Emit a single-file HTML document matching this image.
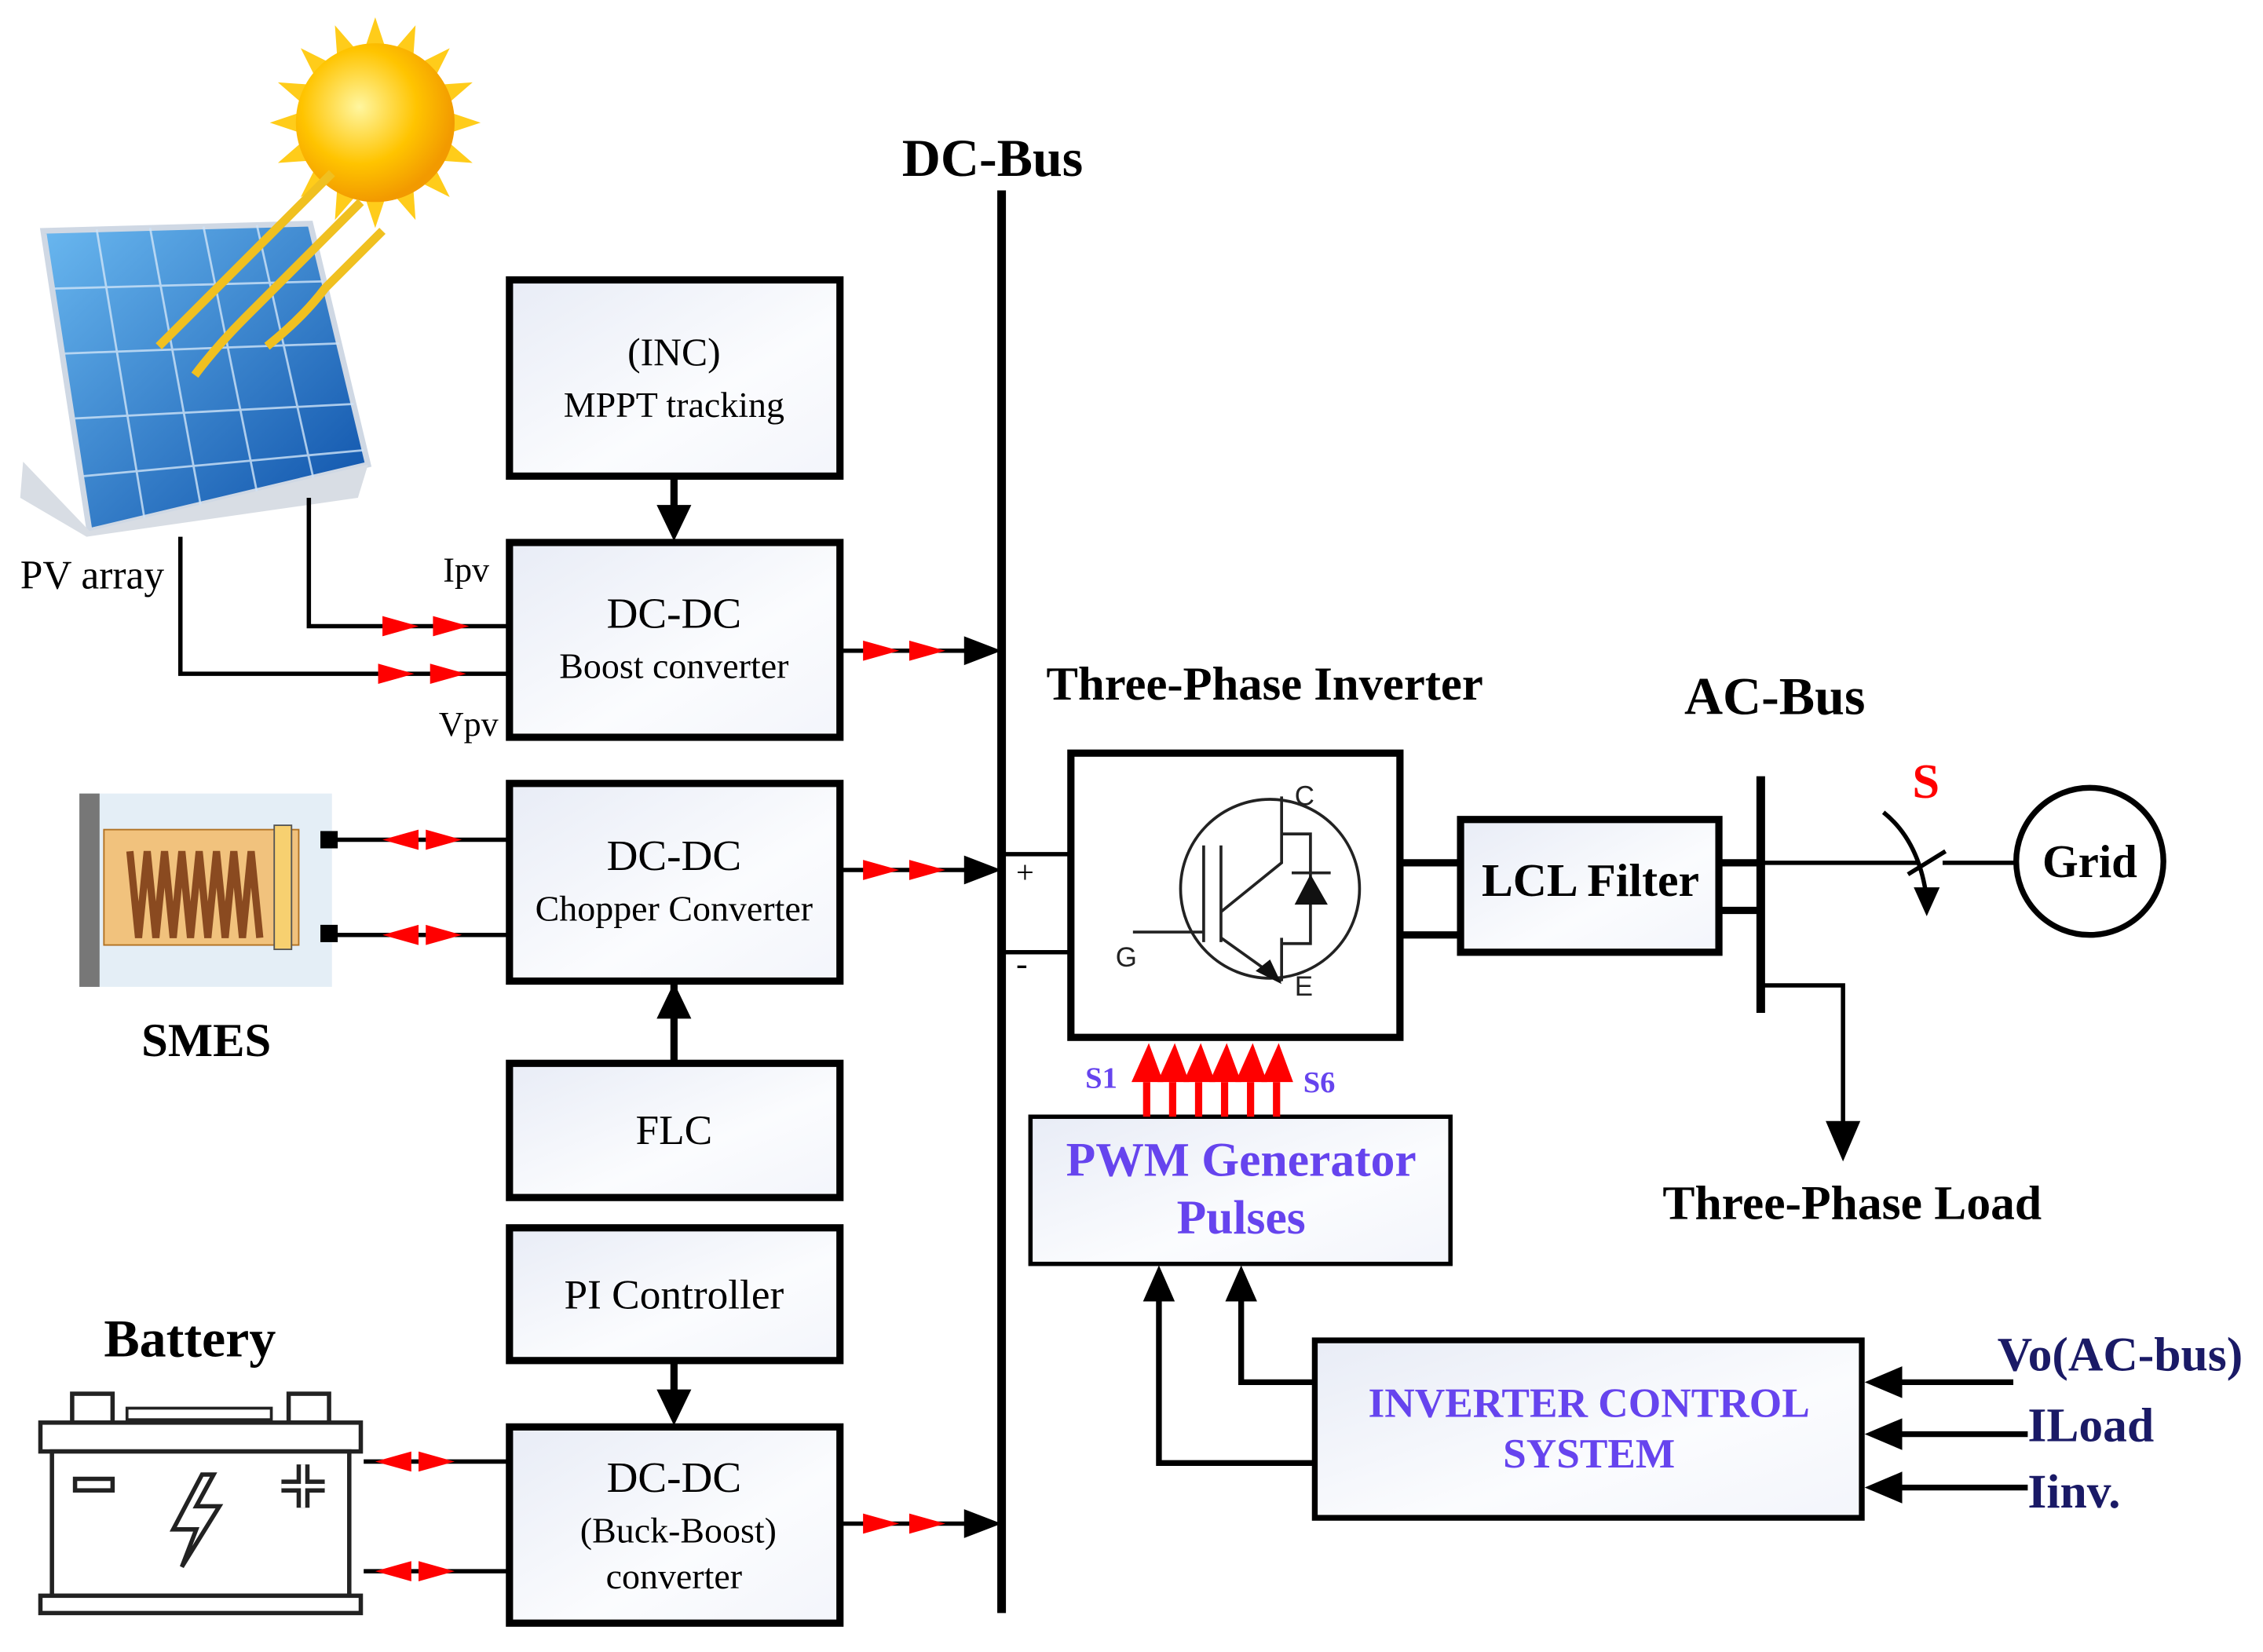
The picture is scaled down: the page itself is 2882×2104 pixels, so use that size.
<!DOCTYPE html>
<html><head><meta charset="utf-8"><style>html,body{margin:0;padding:0;background:#fff}svg{display:block}</style></head>
<body>
<svg width="2882" height="2104" viewBox="0 0 1568 1145" preserveAspectRatio="none" xmlns="http://www.w3.org/2000/svg" font-family="Liberation Serif, serif">
<defs>
<linearGradient id="bg" x1="0" y1="0" x2="1" y2="1"><stop offset="0" stop-color="#e8ecf6"/><stop offset="0.6" stop-color="#fbfcfe"/><stop offset="1" stop-color="#f3f5fb"/></linearGradient>
<radialGradient id="sun" cx="0.4" cy="0.4" r="0.6"><stop offset="0" stop-color="#fff6a0"/><stop offset="0.6" stop-color="#ffc400"/><stop offset="1" stop-color="#f29a00"/></radialGradient>
<linearGradient id="pv" x1="0" y1="0" x2="1" y2="1"><stop offset="0" stop-color="#6ab8f0"/><stop offset="1" stop-color="#0b4fa8"/></linearGradient>
</defs>
<!-- sun -->
<g fill="#ffcc1a">
<polygon points="260,12 268,36 252,36"/>
<polygon points="260,12 268,36 252,36" transform="rotate(22.5 260 85)"/>
<polygon points="260,12 268,36 252,36" transform="rotate(45 260 85)"/>
<polygon points="260,12 268,36 252,36" transform="rotate(67.5 260 85)"/>
<polygon points="260,12 268,36 252,36" transform="rotate(90 260 85)"/>
<polygon points="260,12 268,36 252,36" transform="rotate(112.5 260 85)"/>
<polygon points="260,12 268,36 252,36" transform="rotate(135 260 85)"/>
<polygon points="260,12 268,36 252,36" transform="rotate(157.5 260 85)"/>
<polygon points="260,12 268,36 252,36" transform="rotate(180 260 85)"/>
<polygon points="260,12 268,36 252,36" transform="rotate(202.5 260 85)"/>
<polygon points="260,12 268,36 252,36" transform="rotate(225 260 85)"/>
<polygon points="260,12 268,36 252,36" transform="rotate(247.5 260 85)"/>
<polygon points="260,12 268,36 252,36" transform="rotate(270 260 85)"/>
<polygon points="260,12 268,36 252,36" transform="rotate(292.5 260 85)"/>
<polygon points="260,12 268,36 252,36" transform="rotate(315 260 85)"/>
<polygon points="260,12 268,36 252,36" transform="rotate(337.5 260 85)"/>
</g>
<circle cx="260" cy="85" r="55" fill="url(#sun)"/>
<!-- PV panel -->
<polygon points="30,160 215,155 255,322 62,368" fill="url(#pv)" stroke="#cfd8e4" stroke-width="4"/>
<g stroke="#cfe4f8" stroke-width="1.5" opacity="0.8">
<line x1="67" y1="159" x2="100" y2="359"/><line x1="104" y1="158" x2="139" y2="350"/><line x1="141" y1="157" x2="178" y2="341"/><line x1="178" y1="156" x2="217" y2="331"/>
<line x1="38" y1="200" x2="224" y2="195"/><line x1="45" y1="245" x2="235" y2="238"/><line x1="52" y1="290" x2="245" y2="280"/><line x1="58" y1="330" x2="252" y2="312"/>
</g>
<polygon points="16,320 62,368 255,322 248,345 60,372 14,345" fill="#d8dde4"/>
<g stroke="#f0c020" stroke-width="6" fill="none"><path d="M230,120 q-20,20 -40,40 q-20,20 -40,40 q-20,20 -40,40"/><path d="M250,140 q-20,20 -40,40 q-20,20 -40,40 q-20,20 -35,40"/><path d="M265,160 q-20,20 -40,40 q-15,20 -40,40"/></g>
<text x="14" y="408" font-size="28">PV array</text>
<!-- DC bus -->
<line x1="694" y1="132" x2="694" y2="1118" stroke="#000" stroke-width="6"/>
<text x="625" y="122" font-size="37" font-weight="bold">DC-Bus</text>
<!-- boxes -->
<g fill="url(#bg)" stroke="#000" stroke-width="5">
<rect x="353" y="194" width="229" height="136"/>
<rect x="353" y="376" width="229" height="135"/>
<rect x="353" y="543" width="229" height="137"/>
<rect x="353" y="737" width="229" height="93"/>
<rect x="353" y="851" width="229" height="92"/>
<rect x="353" y="989" width="229" height="136"/>
<rect x="1012" y="568" width="179" height="92"/>
<rect x="714" y="774" width="291" height="102" stroke-width="3"/>
<rect x="911" y="929" width="379" height="123" stroke-width="4"/>
</g>
<rect x="742" y="522" width="228" height="197" fill="#fff" stroke="#000" stroke-width="5"/>
<g font-size="25" text-anchor="middle">
<text x="467" y="253" font-size="27">(INC)</text><text x="467" y="289" font-size="25">MPPT tracking</text>
<text x="467" y="435" font-size="30">DC-DC</text><text x="467" y="470" font-size="25">Boost converter</text>
<text x="467" y="603" font-size="30">DC-DC</text><text x="467" y="638" font-size="25">Chopper Converter</text>
<text x="467" y="793" font-size="29">FLC</text>
<text x="467" y="907" font-size="29">PI Controller</text>
<text x="467" y="1034" font-size="30">DC-DC</text><text x="470" y="1069" font-size="25">(Buck-Boost)</text><text x="467" y="1101" font-size="25">converter</text>
<text x="1102" y="621" font-size="32.5" font-weight="bold">LCL Filter</text>
<text x="860" y="815" font-size="33.5" font-weight="bold" fill="#6644ee">PWM Generator</text>
<text x="860" y="855" font-size="33.5" font-weight="bold" fill="#6644ee">Pulses</text>
<text x="1101" y="982" font-size="29" font-weight="bold" fill="#6644ee">INVERTER CONTROL</text>
<text x="1101" y="1017" font-size="29" font-weight="bold" fill="#6644ee">SYSTEM</text>
</g>
<!-- vertical arrows between boxes -->
<g stroke="#000" stroke-width="5"><line x1="467" y1="330" x2="467" y2="352"/><line x1="467" y1="680" x2="467" y2="737"/><line x1="467" y1="943" x2="467" y2="966"/></g>
<g fill="#000"><polygon points="455,350 479,350 467,375"/><polygon points="455,706 479,706 467,681"/><polygon points="455,963 479,963 467,988"/></g>
<!-- connections with red arrows -->
<g stroke="#000" stroke-width="3" fill="none">
<polyline points="214,345 214,434 353,434"/><polyline points="125,372 125,467 353,467"/>
<line x1="582" y1="451" x2="690" y2="451"/><line x1="582" y1="603" x2="690" y2="603"/><line x1="582" y1="1056" x2="690" y2="1056"/>
<line x1="230" y1="582" x2="353" y2="582"/><line x1="230" y1="648" x2="353" y2="648"/>
<line x1="252" y1="1013" x2="353" y2="1013"/><line x1="252" y1="1089" x2="353" y2="1089"/>
<polyline points="694,592 742,592"/><polyline points="694,660 742,660"/>
</g>
<g fill="#000"><polygon points="668,441 694,451 668,461"/><polygon points="668,593 694,603 668,613"/><polygon points="668,1046 694,1056 668,1066"/></g>
<g fill="#ff0000">
<polygon points="265,427 290,434 265,441"/><polygon points="300,427 325,434 300,441"/>
<polygon points="262,460 287,467 262,474"/><polygon points="298,460 323,467 298,474"/>
<polygon points="598,444 623,451 598,458"/><polygon points="630,444 655,451 630,458"/>
<polygon points="598,596 623,603 598,610"/><polygon points="630,596 655,603 630,610"/>
<polygon points="598,1049 623,1056 598,1063"/><polygon points="630,1049 655,1056 630,1063"/>
<polygon points="290,575 265,582 290,589"/><polygon points="295,575 320,582 295,589"/>
<polygon points="290,641 265,648 290,655"/><polygon points="295,641 320,648 295,655"/>
<polygon points="285,1006 260,1013 285,1020"/><polygon points="290,1006 315,1013 290,1020"/>
<polygon points="285,1082 260,1089 285,1096"/><polygon points="290,1082 315,1089 290,1096"/>
</g>
<text x="307" y="403" font-size="24">Ipv</text><text x="304" y="510" font-size="24">Vpv</text>
<text x="704" y="612" font-size="22">+</text><text x="704" y="676" font-size="24">-</text>
<!-- SMES -->
<rect x="55" y="550" width="175" height="134" fill="#e4eef6"/>
<rect x="55" y="550" width="14" height="134" fill="#777"/>
<rect x="72" y="575" width="135" height="80" fill="#f1c27d" stroke="#b07020"/>
<path d="M90,590 l6,60 l6,-60 l6,60 l6,-60 l6,60 l6,-60 l6,60 l6,-60 l6,60 l6,-60 l6,60 l6,-60 l6,60 l6,-60 l6,60" stroke="#8a4a20" stroke-width="5" fill="none"/>
<rect x="190" y="572" width="12" height="86" fill="#f7d070" stroke="#555"/>
<rect x="222" y="576" width="12" height="12" fill="#000"/><rect x="222" y="641" width="12" height="12" fill="#000"/>
<text x="98" y="732" font-size="33" font-weight="bold">SMES</text>
<!-- Battery -->
<text x="72" y="940" font-size="37" font-weight="bold">Battery</text>
<g stroke="#222" stroke-width="3" fill="#fff">
<rect x="50" y="966" width="28" height="20"/><rect x="200" y="966" width="28" height="20"/>
<rect x="28" y="986" width="222" height="20"/>
<rect x="36" y="1006" width="206" height="100"/>
<rect x="28" y="1106" width="222" height="12"/>
</g>
<rect x="88" y="976" width="100" height="8" fill="#fff" stroke="#222" stroke-width="2"/>
<rect x="52" y="1025" width="26" height="8" fill="#fff" stroke="#222" stroke-width="3"/>
<path d="M210,1015 v30 M195,1030 h30" stroke="#222" stroke-width="9"/><path d="M210,1015 v30 M195,1030 h30" stroke="#fff" stroke-width="3"/>
<path d="M140,1022 l-20,38 h16 l-10,26 l26,-42 h-16 l12,-22 z" fill="#fff" stroke="#222" stroke-width="3"/>
<!-- inverter -->
<text x="725" y="485" font-size="33" font-weight="bold">Three-Phase Inverter</text>
<g stroke="#222" stroke-width="2" fill="none">
<circle cx="880" cy="616" r="62"/>
<line x1="846" y1="586" x2="846" y2="653"/><line x1="834" y1="586" x2="834" y2="653"/>
<polyline points="785,646 834,646"/>
<polyline points="888,552 888,598 846,632"/>
<line x1="888" y1="650" x2="888" y2="680"/>
<polyline points="888,578 908,578 908,654 888,654"/><line x1="895" y1="605" x2="922" y2="605"/>
<line x1="846" y1="650" x2="888" y2="680"/>
</g>
<polygon points="897,627 920,627 908,606" fill="#111"/><polygon points="870,673 888,682 880,665" fill="#111"/>
<g font-family="Liberation Sans, sans-serif" font-size="19" fill="#222"><text x="897" y="558">C</text><text x="773" y="670">G</text><text x="897" y="690">E</text></g>
<g fill="#ff0000">
<polygon points="784,750 796,723 806,750"/><polygon points="802,750 814,723 824,750"/><polygon points="820,750 832,723 842,750"/><polygon points="838,750 850,723 860,750"/><polygon points="856,750 868,723 878,750"/><polygon points="874,750 886,723 896,750"/>
<rect x="792" y="750" width="5" height="24"/><rect x="810" y="750" width="5" height="24"/><rect x="828" y="750" width="5" height="24"/><rect x="846" y="750" width="5" height="24"/><rect x="864" y="750" width="5" height="24"/><rect x="882" y="750" width="5" height="24"/>
</g>
<text x="752" y="754" font-size="21" font-weight="bold" fill="#6644ee">S1</text><text x="903" y="757" font-size="21" font-weight="bold" fill="#6644ee">S6</text>
<!-- inverter to LCL -->
<g stroke="#000" stroke-width="5"><line x1="970" y1="598" x2="1012" y2="598"/><line x1="970" y1="648" x2="1012" y2="648"/>
<line x1="1191" y1="598" x2="1220" y2="598"/><line x1="1191" y1="631" x2="1220" y2="631"/></g>
<!-- AC bus -->
<line x1="1220" y1="538" x2="1220" y2="702" stroke="#000" stroke-width="6"/>
<text x="1167" y="495" font-size="37" font-weight="bold">AC-Bus</text>
<g stroke="#000" stroke-width="3" fill="none">
<line x1="1220" y1="598" x2="1330" y2="598"/><line x1="1346" y1="598" x2="1398" y2="598"/>
<path d="M1305,563 q25,20 30,60"/><line x1="1322" y1="606" x2="1348" y2="590"/>
<polyline points="1220,683 1277,683 1277,780"/>
</g>
<polygon points="1326,615 1344,615 1335,635" fill="#000"/>
<polygon points="1265,777 1289,777 1277,805" fill="#000"/>
<text x="1325" y="553" font-size="34" font-weight="bold" fill="#ff0000">S</text>
<circle cx="1448" cy="597" r="51" fill="#fff" stroke="#000" stroke-width="4"/>
<text x="1448" y="608" font-size="32" font-weight="bold" text-anchor="middle">Grid</text>
<text x="1152" y="845" font-size="33.5" font-weight="bold">Three-Phase Load</text>
<!-- control arrows -->
<g stroke="#000" stroke-width="4" fill="none">
<polyline points="911,958 860,958 860,900"/><polyline points="911,1014 803,1014 803,900"/>
<line x1="1315" y1="958" x2="1395" y2="958"/><line x1="1315" y1="994" x2="1405" y2="994"/><line x1="1315" y1="1031" x2="1405" y2="1031"/>
</g>
<g fill="#000"><polygon points="849,902 871,902 860,877"/><polygon points="792,902 814,902 803,877"/>
<polygon points="1318,947 1318,969 1292,958"/><polygon points="1318,983 1318,1005 1292,994"/><polygon points="1318,1020 1318,1042 1292,1031"/></g>
<g font-size="33.5" font-weight="bold" fill="#1a1a66"><text x="1384" y="950">Vo(AC-bus)</text><text x="1405" y="999">ILoad</text><text x="1405" y="1045">Iinv.</text></g>
</svg>
</body></html>
